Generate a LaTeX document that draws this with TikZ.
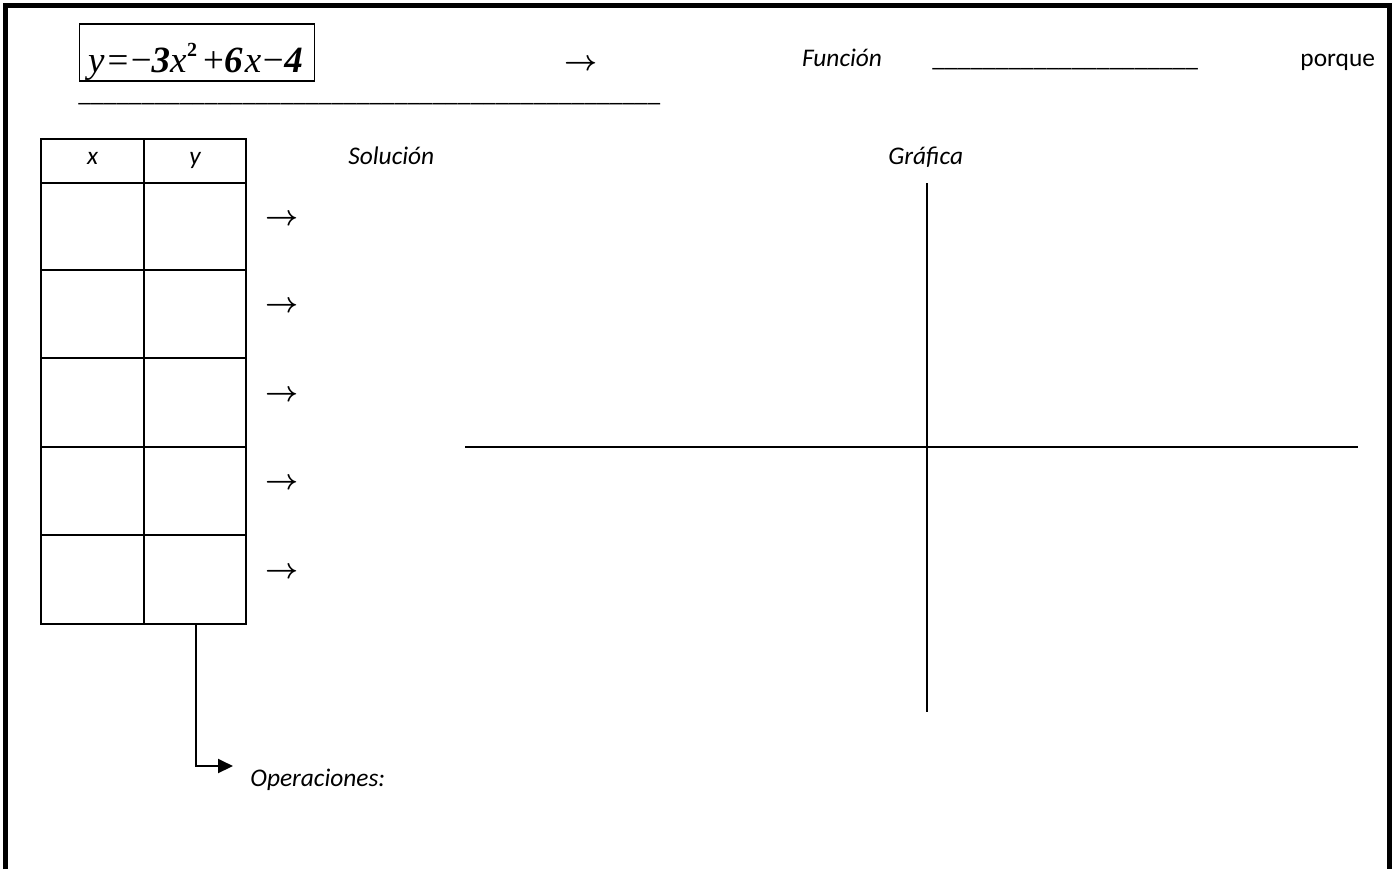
\documentclass[tikz,border=0pt]{standalone}
\usepackage{fontspec}
\setmainfont{Carlito}
\newfontfamily\eqfont{Liberation Serif}
\usetikzlibrary{arrows.meta}
\newcommand\blanks[1]{\foreach \i in {1,...,#1}{\_}}

\begin{document}
\begin{tikzpicture}[x=0.5pt,y=-0.5pt,
  txt/.style={font=\fontsize{12.7}{15}\selectfont, anchor=base west, inner sep=0pt},
  itxt/.style={txt, font=\fontsize{12.7}{15}\selectfont\itshape},
  arr/.style={font=\fontsize{15.5}{18}\selectfont\boldmath, anchor=base, inner sep=0pt},
  cell/.style={line width=1pt},
  axis/.style={line width=0.8pt}]
\useasboundingbox (0,0) rectangle (1397,869);
% frame
\draw[line width=2.25pt] (5.7,869) -- (5.7,5.7) -- (1389.7,5.7) -- (1389.7,869);
% top line
\node[draw, line width=0.8pt, minimum width=117.5pt, minimum height=28.5pt, inner sep=0pt] (eq) at (196.8,52.5) {};
\node[anchor=base, inner sep=0pt] (eqtxt) at (195.5,72) {\eqfont\fontsize{18.5}{20}\selectfont
  \textit{y}\kern1.5pt=\kern1.2pt−\textbf{\textit{3}}\textit{x}\kern0.3pt\raisebox{0.42em}{\fontsize{10}{12}\selectfont\textbf{2}}\kern3pt+\textbf{\textit{6}}\kern1.2pt\textit{x}\kern0.8pt−\kern0.3pt\textbf{\textit{4}}};
\node[arr] (a0) at (581.5,70.5) {$\rightarrow$};
\node[itxt] (fun) at (801.7,66.5) {Función};
\node[txt] (blank1) at (932,66.5) {\blanks{21}};
\node[txt] (porq) at (1300,66.5) {porque};
\node[txt] (blank2) at (78,101) {\blanks{46}};
% table
\draw[cell] (41,139) rectangle (246,624);
\draw[cell] (144,139) -- (144,624);
\foreach \y in {183,270,358,447,535}
  \draw[cell] (41,\y) -- (246,\y);
\node[itxt, anchor=base] (hx) at (92.5,164.5) {x};
\node[itxt, anchor=base] (hy) at (195,164.5) {y};
\foreach \y [count=\n] in {217.5,305,393.5,482,570.5}
  \node[arr] (r\n) at (282.5,\y+7.75) {$\rightarrow$};
% right
\node[itxt] (sol) at (348,164.5) {Solución};
\node[itxt] (graf) at (888,164.5) {Gráfica};
\coordinate (ytop) at (927,183);
\coordinate (ybot) at (927,712);
\coordinate (xl) at (465,447);
\coordinate (xr) at (1358,447);
\draw[axis] (ytop) -- (ybot);
\draw[axis] (xl) -- (xr);
% operations
\coordinate (tab) at (196,624);
\coordinate (opsin) at (233,766);
\node[itxt] (ops) at (250,786) {Operaciones:};
\draw[line width=1pt, -{Triangle[length=7.5pt,width=7pt]}] (tab) |- (opsin);
\end{tikzpicture}
\end{document}
